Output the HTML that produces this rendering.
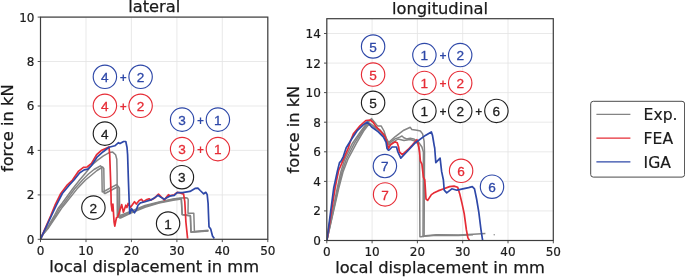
<!DOCTYPE html>
<html lang="en"><head><meta charset="utf-8"><title>force-displacement</title>
<style>
html,body{margin:0;padding:0;background:#fff}
svg{display:block}
text{font-family:"DejaVu Sans","Liberation Sans",sans-serif;fill:#1a1a1a}
.tk{font-size:12px;stroke:#1a1a1a;stroke-width:0.2px}
.lb{font-size:16.3px;stroke:#1a1a1a;stroke-width:0.25px}
.lg{font-size:15.6px;stroke:#1a1a1a;stroke-width:0.2px}
.cn{font-family:"Liberation Sans","DejaVu Sans",sans-serif;font-size:13.6px;stroke-width:0.3px}
.pl{font-family:"Liberation Sans","DejaVu Sans",sans-serif;font-size:12px;font-weight:bold}
</style></head><body>
<svg width="685" height="277" viewBox="0 0 685 277">
<rect width="685" height="277" fill="#fff"/>
<line x1="40.5" y1="17.1" x2="40.5" y2="239.3" stroke="#e3e3e3" stroke-width="0.8"/>
<line x1="86.0" y1="17.1" x2="86.0" y2="239.3" stroke="#e3e3e3" stroke-width="0.8"/>
<line x1="131.4" y1="17.1" x2="131.4" y2="239.3" stroke="#e3e3e3" stroke-width="0.8"/>
<line x1="176.9" y1="17.1" x2="176.9" y2="239.3" stroke="#e3e3e3" stroke-width="0.8"/>
<line x1="222.3" y1="17.1" x2="222.3" y2="239.3" stroke="#e3e3e3" stroke-width="0.8"/>
<line x1="267.8" y1="17.1" x2="267.8" y2="239.3" stroke="#e3e3e3" stroke-width="0.8"/>
<line x1="40.5" y1="239.3" x2="267.8" y2="239.3" stroke="#e3e3e3" stroke-width="0.8"/>
<line x1="40.5" y1="194.9" x2="267.8" y2="194.9" stroke="#e3e3e3" stroke-width="0.8"/>
<line x1="40.5" y1="150.4" x2="267.8" y2="150.4" stroke="#e3e3e3" stroke-width="0.8"/>
<line x1="40.5" y1="106.0" x2="267.8" y2="106.0" stroke="#e3e3e3" stroke-width="0.8"/>
<line x1="40.5" y1="61.5" x2="267.8" y2="61.5" stroke="#e3e3e3" stroke-width="0.8"/>
<line x1="40.5" y1="17.1" x2="267.8" y2="17.1" stroke="#e3e3e3" stroke-width="0.8"/>
<line x1="326.8" y1="18.7" x2="326.8" y2="240.5" stroke="#e3e3e3" stroke-width="0.8"/>
<line x1="372.1" y1="18.7" x2="372.1" y2="240.5" stroke="#e3e3e3" stroke-width="0.8"/>
<line x1="417.4" y1="18.7" x2="417.4" y2="240.5" stroke="#e3e3e3" stroke-width="0.8"/>
<line x1="462.7" y1="18.7" x2="462.7" y2="240.5" stroke="#e3e3e3" stroke-width="0.8"/>
<line x1="508.0" y1="18.7" x2="508.0" y2="240.5" stroke="#e3e3e3" stroke-width="0.8"/>
<line x1="553.3" y1="18.7" x2="553.3" y2="240.5" stroke="#e3e3e3" stroke-width="0.8"/>
<line x1="326.8" y1="240.5" x2="553.3" y2="240.5" stroke="#e3e3e3" stroke-width="0.8"/>
<line x1="326.8" y1="210.9" x2="553.3" y2="210.9" stroke="#e3e3e3" stroke-width="0.8"/>
<line x1="326.8" y1="181.4" x2="553.3" y2="181.4" stroke="#e3e3e3" stroke-width="0.8"/>
<line x1="326.8" y1="151.8" x2="553.3" y2="151.8" stroke="#e3e3e3" stroke-width="0.8"/>
<line x1="326.8" y1="122.2" x2="553.3" y2="122.2" stroke="#e3e3e3" stroke-width="0.8"/>
<line x1="326.8" y1="92.6" x2="553.3" y2="92.6" stroke="#e3e3e3" stroke-width="0.8"/>
<line x1="326.8" y1="63.1" x2="553.3" y2="63.1" stroke="#e3e3e3" stroke-width="0.8"/>
<line x1="326.8" y1="33.5" x2="553.3" y2="33.5" stroke="#e3e3e3" stroke-width="0.8"/>
<clipPath id="c1"><rect x="40.5" y="17.1" width="227.3" height="222.2"/></clipPath>
<clipPath id="c2"><rect x="326.8" y="18.7" width="226.5" height="221.8"/></clipPath>
<g clip-path="url(#c1)">
<polyline points="40.7,238.6 42.7,234.6 47.5,227.5 54.2,216.0 58.0,208.5 62.3,203.0 72.5,189.0 80.0,179.5 85.6,173.0 91.7,165.2 97.3,160.4 103.4,155.8 109.2,152.6 112.7,152.1 115.6,154.7 116.8,159.3 117.1,173.4 117.3,216.0 118.3,216.3 131.0,211.3 145.0,205.5 159.1,202.0 173.1,199.1 180.1,197.9 185.9,197.8 187.6,198.3 188.2,199.6 188.0,213.3 193.8,213.3 194.4,231.4 208.4,230.2" fill="none" stroke="#848484" stroke-width="1.5" stroke-linejoin="round" stroke-linecap="butt"/>
<polyline points="40.7,238.6 42.8,234.6 48.0,227.9 55.3,216.0 59.8,208.0 63.8,203.5 74.5,189.0 83.0,179.5 88.5,174.0 94.0,169.5 100.4,165.8 101.8,167.0 102.2,191.7 103.0,192.0 116.5,184.6 117.8,186.0 118.3,217.0 119.3,217.3 131.0,212.2 145.0,206.3 159.1,202.5 173.1,199.6 181.2,198.4 182.1,214.4 190.3,215.6 190.9,232.0 208.4,230.8" fill="none" stroke="#848484" stroke-width="1.5" stroke-linejoin="round" stroke-linecap="butt"/>
<polyline points="40.7,238.6 42.9,234.6 48.5,227.9 56.4,216.0 61.7,208.0 65.2,203.7 76.9,189.1 85.5,180.0 92.2,174.5 97.0,170.5 102.6,167.0 103.8,168.5 104.2,193.2 105.0,193.5 118.2,186.5 119.4,188.0 119.7,218.0 120.5,218.0 131.0,213.1 145.0,207.2 159.1,203.1 173.1,200.2 181.4,199.0 182.3,214.8 190.5,216.0 191.1,232.3 208.4,231.0" fill="none" stroke="#848484" stroke-width="1.5" stroke-linejoin="round" stroke-linecap="butt"/>
<polyline points="40.7,238.6 50.6,216.0 55.0,205.2 60.8,193.5 67.4,184.8 72.5,180.0 78.3,171.4 83.4,167.4 87.1,167.0 91.5,163.4 96.6,154.6 101.7,150.2 109.0,146.9 109.7,154.6 110.6,180.0 111.0,195.0 111.2,204.0 112.1,211.0 112.9,204.0 114.1,222.0 114.8,226.1 116.4,218.0 117.6,216.9 119.3,212.2 121.7,204.6 123.4,212.2 125.8,205.2 126.9,207.5 128.1,203.4 130.4,207.5 134.5,201.7 136.3,204.0 139.2,200.5 141.5,199.3 143.3,201.7 146.2,199.9 149.1,198.8 150.9,199.9 154.4,198.2 158.5,194.1 161.4,197.0 164.3,199.9 168.4,194.7 170.1,195.8 171.9,195.3 174.3,194.7 177.2,192.3 180.1,192.9 183.6,194.1 184.8,201.7 185.9,222.0 187.6,238.6" fill="none" stroke="#e62c36" stroke-width="1.7" stroke-linejoin="round" stroke-linecap="butt"/>
<polyline points="40.7,238.6 51.3,216.0 56.4,205.2 62.3,193.5 69.6,184.8 74.0,180.0 79.8,172.8 84.2,169.9 87.8,169.2 91.5,165.5 97.3,156.8 103.2,151.7 109.0,147.3 114.8,145.8 118.5,142.6 120.0,143.6 123.6,141.5 125.8,141.5 127.0,147.3 127.6,154.6 128.4,180.0 129.1,200.0 129.8,213.4 131.6,208.7 134.5,212.8 136.3,209.9 138.0,205.2 140.4,202.9 145.0,201.7 150.9,199.9 155.0,197.6 157.9,195.3 161.4,197.6 164.3,199.3 167.2,197.6 170.7,195.8 174.3,195.3 177.2,192.6 182.4,192.6 190.0,191.4 195.0,188.4 197.9,188.2 200.2,190.5 203.7,193.8 205.8,192.3 207.2,194.6 208.1,203.4 208.4,212.0 209.0,226.7 210.7,229.0 212.5,236.0 214.3,238.6" fill="none" stroke="#2e48a8" stroke-width="1.7" stroke-linejoin="round" stroke-linecap="butt"/>
</g>
<g clip-path="url(#c2)">
<polyline points="326.9,240.4 337.3,188.0 340.8,172.0 344.6,159.5 352.5,143.2 361.0,131.0 366.0,124.3 371.6,118.6 373.5,121.0 377.5,125.9 381.1,125.9 384.0,131.0 386.2,138.3 387.7,143.4 395.0,136.8 403.8,130.2 410.3,127.3 411.8,129.5 416.9,130.2 420.4,131.0 422.6,133.9 424.1,141.2 424.5,152.0 424.1,236.0 425.5,235.7 436.5,234.7 458.4,235.0 473.0,234.3 485.4,233.5" fill="none" stroke="#848484" stroke-width="1.5" stroke-linejoin="round" stroke-linecap="butt"/>
<polyline points="326.9,240.4 338.2,188.0 342.0,172.0 346.2,159.5 354.5,143.2 362.3,131.0 367.0,124.5 369.4,123.0 375.0,127.0 380.0,130.0 384.5,135.0 389.2,143.3 395.0,138.9 399.7,137.1 402.0,136.0 403.8,137.7 406.7,138.9 410.2,138.3 413.7,138.9 416.1,140.4 418.6,142.2 421.9,147.0 423.4,152.0 423.0,236.5 424.5,236.2 436.5,235.2 458.4,235.4 473.0,234.8" fill="none" stroke="#848484" stroke-width="1.5" stroke-linejoin="round" stroke-linecap="butt"/>
<polyline points="326.9,240.4 338.8,188.0 343.0,172.0 347.8,159.5 356.5,143.2 363.6,131.0 367.8,125.5 370.5,124.0 376.0,128.5 381.0,132.0 385.5,137.0 389.0,145.0 398.0,139.0 404.0,140.5 410.0,139.5 415.0,141.0 418.0,144.0 419.5,150.0 419.9,236.8 421.0,236.8 424.0,236.2" fill="none" stroke="#848484" stroke-width="1.5" stroke-linejoin="round" stroke-linecap="butt"/>
<circle cx="494.2" cy="234.7" r="0.7" fill="#848484"/>
<polyline points="326.9,240.4 335.1,188.0 336.6,180.1 338.8,169.9 340.2,167.0 343.9,158.2 348.3,148.0 350.5,141.0 353.4,133.9 360.0,125.9 365.8,120.5 370.2,120.0 373.1,122.2 376.0,126.6 380.4,131.0 384.8,136.1 387.0,142.7 388.4,148.5 390.6,144.8 395.0,141.9 397.2,142.7 398.6,147.0 399.4,152.0 402.3,154.6 408.1,149.5 412.5,144.8 416.9,139.7 418.4,144.8 419.5,152.0 420.4,161.1 421.9,164.1 423.4,177.2 424.8,180.0 426.0,199.0 427.7,200.4 431.4,194.6 433.6,193.1 438.0,190.9 443.8,188.8 449.6,186.6 454.0,186.1 457.7,187.3 459.9,194.6 462.0,203.4 464.2,213.6 466.4,229.9 467.9,237.9 469.4,240.2" fill="none" stroke="#e62c36" stroke-width="1.7" stroke-linejoin="round" stroke-linecap="butt"/>
<polyline points="326.9,240.4 333.7,188.0 335.1,181.6 337.3,171.4 339.5,162.6 341.0,161.1 343.2,156.8 346.1,148.0 351.2,139.7 357.0,131.0 362.9,125.1 367.2,122.0 371.4,126.7 378.3,131.9 383.5,137.1 386.1,142.3 387.0,148.4 388.4,150.2 389.2,150.0 392.1,147.0 396.5,147.0 397.9,152.0 400.8,158.2 406.7,152.0 415.4,142.7 425.4,135.4 431.3,131.9 432.5,135.4 433.2,139.5 434.2,145.6 434.7,148.0 435.8,162.6 440.1,158.2 441.6,171.4 443.4,180.0 444.2,190.2 446.7,192.8 451.8,188.8 456.9,190.2 462.8,188.8 468.6,187.6 472.3,186.6 474.5,188.8 476.6,199.0 478.8,212.1 481.0,229.9 482.6,240.2" fill="none" stroke="#2e48a8" stroke-width="1.7" stroke-linejoin="round" stroke-linecap="butt"/>
</g>
<rect x="40.5" y="17.1" width="227.3" height="222.2" fill="none" stroke="#3d3d3d" stroke-width="1.2"/>
<line x1="40.5" y1="239.3" x2="40.5" y2="242.10000000000002" stroke="#3d3d3d" stroke-width="0.9"/>
<text x="40.5" y="254.5" text-anchor="middle" class="tk">0</text>
<line x1="86.0" y1="239.3" x2="86.0" y2="242.10000000000002" stroke="#3d3d3d" stroke-width="0.9"/>
<text x="86.0" y="254.5" text-anchor="middle" class="tk">10</text>
<line x1="131.4" y1="239.3" x2="131.4" y2="242.10000000000002" stroke="#3d3d3d" stroke-width="0.9"/>
<text x="131.4" y="254.5" text-anchor="middle" class="tk">20</text>
<line x1="176.9" y1="239.3" x2="176.9" y2="242.10000000000002" stroke="#3d3d3d" stroke-width="0.9"/>
<text x="176.9" y="254.5" text-anchor="middle" class="tk">30</text>
<line x1="222.3" y1="239.3" x2="222.3" y2="242.10000000000002" stroke="#3d3d3d" stroke-width="0.9"/>
<text x="222.3" y="254.5" text-anchor="middle" class="tk">40</text>
<line x1="267.8" y1="239.3" x2="267.8" y2="242.10000000000002" stroke="#3d3d3d" stroke-width="0.9"/>
<text x="267.8" y="254.5" text-anchor="middle" class="tk">50</text>
<line x1="37.7" y1="239.3" x2="40.5" y2="239.3" stroke="#3d3d3d" stroke-width="0.9"/>
<text x="34.5" y="243.7" text-anchor="end" class="tk">0</text>
<line x1="37.7" y1="194.9" x2="40.5" y2="194.9" stroke="#3d3d3d" stroke-width="0.9"/>
<text x="34.5" y="199.3" text-anchor="end" class="tk">2</text>
<line x1="37.7" y1="150.4" x2="40.5" y2="150.4" stroke="#3d3d3d" stroke-width="0.9"/>
<text x="34.5" y="154.8" text-anchor="end" class="tk">4</text>
<line x1="37.7" y1="106.0" x2="40.5" y2="106.0" stroke="#3d3d3d" stroke-width="0.9"/>
<text x="34.5" y="110.4" text-anchor="end" class="tk">6</text>
<line x1="37.7" y1="61.5" x2="40.5" y2="61.5" stroke="#3d3d3d" stroke-width="0.9"/>
<text x="34.5" y="65.9" text-anchor="end" class="tk">8</text>
<line x1="37.7" y1="17.1" x2="40.5" y2="17.1" stroke="#3d3d3d" stroke-width="0.9"/>
<text x="34.5" y="21.5" text-anchor="end" class="tk">10</text>
<text x="154.2" y="12.2" text-anchor="middle" class="lb">lateral</text>
<text x="154.2" y="271.9" text-anchor="middle" class="lb">local displacement in mm</text>
<text transform="translate(13,128.2) rotate(-90)" text-anchor="middle" class="lb">force in kN</text>
<rect x="326.8" y="18.7" width="226.5" height="221.8" fill="none" stroke="#3d3d3d" stroke-width="1.2"/>
<line x1="326.8" y1="240.5" x2="326.8" y2="243.3" stroke="#3d3d3d" stroke-width="0.9"/>
<text x="326.8" y="255.7" text-anchor="middle" class="tk">0</text>
<line x1="372.1" y1="240.5" x2="372.1" y2="243.3" stroke="#3d3d3d" stroke-width="0.9"/>
<text x="372.1" y="255.7" text-anchor="middle" class="tk">10</text>
<line x1="417.4" y1="240.5" x2="417.4" y2="243.3" stroke="#3d3d3d" stroke-width="0.9"/>
<text x="417.4" y="255.7" text-anchor="middle" class="tk">20</text>
<line x1="462.7" y1="240.5" x2="462.7" y2="243.3" stroke="#3d3d3d" stroke-width="0.9"/>
<text x="462.7" y="255.7" text-anchor="middle" class="tk">30</text>
<line x1="508.0" y1="240.5" x2="508.0" y2="243.3" stroke="#3d3d3d" stroke-width="0.9"/>
<text x="508.0" y="255.7" text-anchor="middle" class="tk">40</text>
<line x1="553.3" y1="240.5" x2="553.3" y2="243.3" stroke="#3d3d3d" stroke-width="0.9"/>
<text x="553.3" y="255.7" text-anchor="middle" class="tk">50</text>
<line x1="324.0" y1="240.5" x2="326.8" y2="240.5" stroke="#3d3d3d" stroke-width="0.9"/>
<text x="320.8" y="244.9" text-anchor="end" class="tk">0</text>
<line x1="324.0" y1="210.9" x2="326.8" y2="210.9" stroke="#3d3d3d" stroke-width="0.9"/>
<text x="320.8" y="215.3" text-anchor="end" class="tk">2</text>
<line x1="324.0" y1="181.4" x2="326.8" y2="181.4" stroke="#3d3d3d" stroke-width="0.9"/>
<text x="320.8" y="185.8" text-anchor="end" class="tk">4</text>
<line x1="324.0" y1="151.8" x2="326.8" y2="151.8" stroke="#3d3d3d" stroke-width="0.9"/>
<text x="320.8" y="156.2" text-anchor="end" class="tk">6</text>
<line x1="324.0" y1="122.2" x2="326.8" y2="122.2" stroke="#3d3d3d" stroke-width="0.9"/>
<text x="320.8" y="126.6" text-anchor="end" class="tk">8</text>
<line x1="324.0" y1="92.6" x2="326.8" y2="92.6" stroke="#3d3d3d" stroke-width="0.9"/>
<text x="320.8" y="97.0" text-anchor="end" class="tk">10</text>
<line x1="324.0" y1="63.1" x2="326.8" y2="63.1" stroke="#3d3d3d" stroke-width="0.9"/>
<text x="320.8" y="67.5" text-anchor="end" class="tk">12</text>
<line x1="324.0" y1="33.5" x2="326.8" y2="33.5" stroke="#3d3d3d" stroke-width="0.9"/>
<text x="320.8" y="37.9" text-anchor="end" class="tk">14</text>
<text x="440.0" y="13.8" text-anchor="middle" class="lb">longitudinal</text>
<text x="440.0" y="273.1" text-anchor="middle" class="lb">local displacement in mm</text>
<text transform="translate(299,129.6) rotate(-90)" text-anchor="middle" class="lb">force in kN</text>
<circle cx="104.9" cy="76.8" r="11.7" fill="#fff" stroke="#2e48a8" stroke-width="1.15"/><text x="104.9" y="81.9" text-anchor="middle" class="cn" style="fill:#2e48a8;stroke:#2e48a8">4</text>
<text x="123.2" y="81.8" text-anchor="middle" class="pl" style="fill:#2e48a8">+</text>
<circle cx="140.6" cy="76.8" r="11.7" fill="#fff" stroke="#2e48a8" stroke-width="1.15"/><text x="140.6" y="81.9" text-anchor="middle" class="cn" style="fill:#2e48a8;stroke:#2e48a8">2</text>
<circle cx="104.9" cy="105.8" r="11.7" fill="#fff" stroke="#e62c36" stroke-width="1.15"/><text x="104.9" y="110.9" text-anchor="middle" class="cn" style="fill:#e62c36;stroke:#e62c36">4</text>
<text x="123.2" y="110.8" text-anchor="middle" class="pl" style="fill:#e62c36">+</text>
<circle cx="140.6" cy="105.8" r="11.7" fill="#fff" stroke="#e62c36" stroke-width="1.15"/><text x="140.6" y="110.9" text-anchor="middle" class="cn" style="fill:#e62c36;stroke:#e62c36">2</text>
<circle cx="104.9" cy="133.6" r="11.7" fill="#fff" stroke="#1f1f1f" stroke-width="1.15"/><text x="104.9" y="138.7" text-anchor="middle" class="cn" style="fill:#1f1f1f;stroke:#1f1f1f">4</text>
<circle cx="93.4" cy="207.6" r="11.7" fill="#fff" stroke="#1f1f1f" stroke-width="1.15"/><text x="93.4" y="212.7" text-anchor="middle" class="cn" style="fill:#1f1f1f;stroke:#1f1f1f">2</text>
<circle cx="182.1" cy="119.6" r="11.7" fill="#fff" stroke="#2e48a8" stroke-width="1.15"/><text x="182.1" y="124.7" text-anchor="middle" class="cn" style="fill:#2e48a8;stroke:#2e48a8">3</text>
<text x="200.5" y="124.6" text-anchor="middle" class="pl" style="fill:#2e48a8">+</text>
<circle cx="217.9" cy="119.6" r="11.7" fill="#fff" stroke="#2e48a8" stroke-width="1.15"/><text x="217.9" y="124.7" text-anchor="middle" class="cn" style="fill:#2e48a8;stroke:#2e48a8">1</text>
<circle cx="182.1" cy="149.1" r="11.7" fill="#fff" stroke="#e62c36" stroke-width="1.15"/><text x="182.1" y="154.2" text-anchor="middle" class="cn" style="fill:#e62c36;stroke:#e62c36">3</text>
<text x="200.5" y="154.1" text-anchor="middle" class="pl" style="fill:#e62c36">+</text>
<circle cx="217.9" cy="149.1" r="11.7" fill="#fff" stroke="#e62c36" stroke-width="1.15"/><text x="217.9" y="154.2" text-anchor="middle" class="cn" style="fill:#e62c36;stroke:#e62c36">1</text>
<circle cx="181.9" cy="177.2" r="11.7" fill="#fff" stroke="#1f1f1f" stroke-width="1.15"/><text x="181.9" y="182.3" text-anchor="middle" class="cn" style="fill:#1f1f1f;stroke:#1f1f1f">3</text>
<circle cx="168.1" cy="223.5" r="11.7" fill="#fff" stroke="#1f1f1f" stroke-width="1.15"/><text x="168.1" y="228.6" text-anchor="middle" class="cn" style="fill:#1f1f1f;stroke:#1f1f1f">1</text>
<circle cx="373.1" cy="46.5" r="11.7" fill="#fff" stroke="#2e48a8" stroke-width="1.15"/><text x="373.1" y="51.6" text-anchor="middle" class="cn" style="fill:#2e48a8;stroke:#2e48a8">5</text>
<circle cx="373.1" cy="74.6" r="11.7" fill="#fff" stroke="#e62c36" stroke-width="1.15"/><text x="373.1" y="79.7" text-anchor="middle" class="cn" style="fill:#e62c36;stroke:#e62c36">5</text>
<circle cx="373.1" cy="102.8" r="11.7" fill="#fff" stroke="#1f1f1f" stroke-width="1.15"/><text x="373.1" y="107.9" text-anchor="middle" class="cn" style="fill:#1f1f1f;stroke:#1f1f1f">5</text>
<circle cx="424.4" cy="55.1" r="11.7" fill="#fff" stroke="#2e48a8" stroke-width="1.15"/><text x="424.4" y="60.2" text-anchor="middle" class="cn" style="fill:#2e48a8;stroke:#2e48a8">1</text>
<text x="442.9" y="60.1" text-anchor="middle" class="pl" style="fill:#2e48a8">+</text>
<circle cx="460.2" cy="55.1" r="11.7" fill="#fff" stroke="#2e48a8" stroke-width="1.15"/><text x="460.2" y="60.2" text-anchor="middle" class="cn" style="fill:#2e48a8;stroke:#2e48a8">2</text>
<circle cx="424.4" cy="82.9" r="11.7" fill="#fff" stroke="#e62c36" stroke-width="1.15"/><text x="424.4" y="88.0" text-anchor="middle" class="cn" style="fill:#e62c36;stroke:#e62c36">1</text>
<text x="442.9" y="87.9" text-anchor="middle" class="pl" style="fill:#e62c36">+</text>
<circle cx="460.2" cy="82.9" r="11.7" fill="#fff" stroke="#e62c36" stroke-width="1.15"/><text x="460.2" y="88.0" text-anchor="middle" class="cn" style="fill:#e62c36;stroke:#e62c36">2</text>
<circle cx="424.4" cy="110.9" r="11.7" fill="#fff" stroke="#1f1f1f" stroke-width="1.15"/><text x="424.4" y="116.0" text-anchor="middle" class="cn" style="fill:#1f1f1f;stroke:#1f1f1f">1</text>
<text x="442.9" y="115.9" text-anchor="middle" class="pl" style="fill:#1f1f1f">+</text>
<circle cx="460.2" cy="110.9" r="11.7" fill="#fff" stroke="#1f1f1f" stroke-width="1.15"/><text x="460.2" y="116.0" text-anchor="middle" class="cn" style="fill:#1f1f1f;stroke:#1f1f1f">2</text>
<text x="478.8" y="115.9" text-anchor="middle" class="pl" style="fill:#1f1f1f">+</text>
<circle cx="496.4" cy="110.9" r="11.7" fill="#fff" stroke="#1f1f1f" stroke-width="1.15"/><text x="496.4" y="116.0" text-anchor="middle" class="cn" style="fill:#1f1f1f;stroke:#1f1f1f">6</text>
<circle cx="384.9" cy="166" r="11.7" fill="#fff" stroke="#2e48a8" stroke-width="1.15"/><text x="384.9" y="171.1" text-anchor="middle" class="cn" style="fill:#2e48a8;stroke:#2e48a8">7</text>
<circle cx="385.1" cy="194.4" r="11.7" fill="#fff" stroke="#e62c36" stroke-width="1.15"/><text x="385.1" y="199.5" text-anchor="middle" class="cn" style="fill:#e62c36;stroke:#e62c36">7</text>
<circle cx="461.1" cy="170.8" r="11.7" fill="#fff" stroke="#e62c36" stroke-width="1.15"/><text x="461.1" y="175.9" text-anchor="middle" class="cn" style="fill:#e62c36;stroke:#e62c36">6</text>
<circle cx="492" cy="186.7" r="11.7" fill="#fff" stroke="#2e48a8" stroke-width="1.15"/><text x="492" y="191.8" text-anchor="middle" class="cn" style="fill:#2e48a8;stroke:#2e48a8">6</text>
<rect x="590.7" y="101.3" width="93.9" height="75.8" rx="2.6" fill="#fff" stroke="#4a4a4a" stroke-width="1"/>
<line x1="596.4" y1="114.4" x2="630.4" y2="114.4" stroke="#848484" stroke-width="1.3"/>
<text x="643.6" y="120.1" class="lg">Exp.</text>
<line x1="596.4" y1="138.1" x2="630.4" y2="138.1" stroke="#e62c36" stroke-width="1.3"/>
<text x="643.6" y="143.8" class="lg">FEA</text>
<line x1="596.4" y1="161.9" x2="630.4" y2="161.9" stroke="#2e48a8" stroke-width="1.3"/>
<text x="643.6" y="167.6" class="lg">IGA</text>
</svg>
</body></html>
